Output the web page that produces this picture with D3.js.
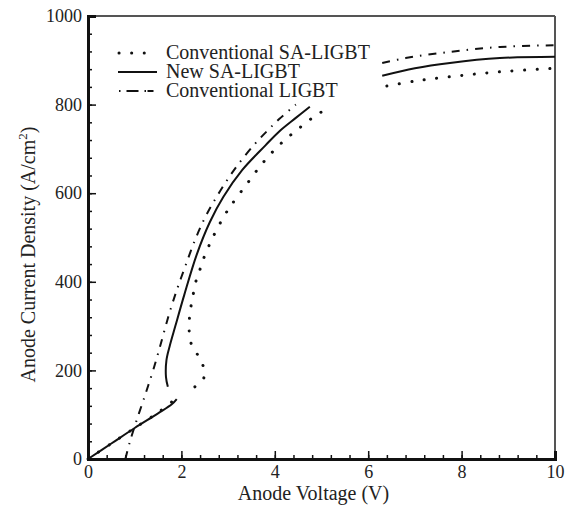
<!DOCTYPE html>
<html>
<head>
<meta charset="utf-8">
<script src="https://cdn.jsdelivr.net/npm/d3@7"></script>
<style>
  body { margin: 0; background: #fff; }
</style>
</head>
<body>
<script>
// Anode voltage (V) / current density (A/cm2)
// New SA-LIGBT (solid): unipolar part, snapback branch, saturation part
const newLowV = [0, 0.5, 1.0, 1.5, 1.8, 1.9];
const newLowJ = [0, 35, 70, 103, 124, 135];
const newUpV = [1.71, 1.67, 1.68, 1.75, 1.87, 2.06, 2.33, 2.61, 2.9, 3.3, 3.8, 4.1, 4.45, 4.75];
const newUpJ = [163, 185, 223, 255, 300, 370, 462, 535, 592, 652, 708, 740, 770, 795];
const newSatV = [6.3, 7.0, 7.75, 8.82, 10];
const newSatJ = [865, 882, 894, 905, 908];

// Conventional SA-LIGBT (dotted)
const convSaLowV = [0, 0.5, 1.0, 1.5, 1.9];
const convSaLowJ = [0, 35, 70, 105, 138];
const convSaUpV = [2.29, 2.48, 2.47, 2.36, 2.22, 2.17, 2.17, 2.2, 2.25, 2.3, 2.38, 2.47, 2.68, 2.93, 3.08, 3.41, 3.74, 4.1, 4.5, 4.9, 5.2];
const convSaUpJ = [163, 183, 208, 233, 257, 284, 314, 341, 370, 397, 422, 451, 502, 551, 575, 622, 668, 709, 745, 777, 795];
const convSaSatV = [6.4, 7.0, 7.75, 8.82, 10];
const convSaSatJ = [842, 853, 863, 874, 882];

// Conventional LIGBT (dash-dot)
const ligbtV = [0.8, 0.9, 1.05, 1.2, 1.29, 1.4, 1.54, 1.72, 1.9, 2.08, 2.29, 2.53, 2.83, 3.18, 3.58, 3.85, 4.1, 4.45];
const ligbtJ = [0, 40, 90, 137, 166, 202, 253, 321, 381, 434, 494, 550, 605, 660, 712, 742, 768, 800];
const ligbtSatV = [6.3, 6.8, 7.75, 8.82, 10];
const ligbtSatJ = [894, 905, 919, 930, 934];

const xTicks = [0, 2, 4, 6, 8, 10];
const yTicks = [0, 200, 400, 600, 800, 1000];
const legendNames = ["Conventional SA-LIGBT", "New SA-LIGBT", "Conventional LIGBT"];

const font = "'Liberation Serif', 'Times New Roman', Times, Tinos, 'Nimbus Roman', 'DejaVu Serif', 'Noto Serif', serif";

const W = 567, H = 508;
const m = { top: 16, right: 12, bottom: 49, left: 88 };
const w = W - m.left - m.right;
const h = H - m.top - m.bottom;

const svg = d3.select("body").append("svg")
    .attr("width", W)
    .attr("height", H)
    .style("font-family", font);

const g = svg.append("g").attr("transform", "translate(" + m.left + "," + m.top + ")");

const xScale = d3.scaleLinear().domain([0, 10]).range([0, w]);
const yScale = d3.scaleLinear().domain([0, 1000]).range([h, 0]);

// styles for the three series
const styles = {
    dot: { dash: "0.1,12.5", width: 3, cap: "round" },
    solid: { dash: null, width: 2, cap: "butt" },
    dashdot: { dash: "8,7,1.5,7", width: 2, cap: "butt" }
};

// frame (top / right) - thinner grey
g.append("line").attr("x1", 0).attr("x2", w).attr("y1", 0).attr("y2", 0)
    .attr("stroke", "#555").attr("stroke-width", 2);
g.append("line").attr("x1", w).attr("x2", w).attr("y1", 0).attr("y2", h)
    .attr("stroke", "#555").attr("stroke-width", 2);

// minor ticks
g.append("g")
    .attr("transform", "translate(0," + h + ")")
    .call(d3.axisBottom(xScale).tickValues(d3.range(0, 10.01, 0.4)).tickSize(-4).tickFormat(""))
    .call(a => a.select(".domain").remove())
    .selectAll("line").attr("stroke", "#111").attr("stroke-width", 1.5);
g.append("g")
    .call(d3.axisLeft(yScale).tickValues(d3.range(0, 1000.1, 40)).tickSize(-4).tickFormat(""))
    .call(a => a.select(".domain").remove())
    .selectAll("line").attr("stroke", "#111").attr("stroke-width", 1.5);

// major axes
const xAxis = g.append("g")
    .attr("transform", "translate(0," + h + ")")
    .call(d3.axisBottom(xScale).tickValues(xTicks).tickSize(-8).tickPadding(6).tickFormat(d3.format("d")));
xAxis.select(".domain").attr("stroke", "#111").attr("stroke-width", 3);
xAxis.selectAll("line").attr("stroke", "#111").attr("stroke-width", 1.5);
xAxis.selectAll("text").attr("font-size", 18).attr("fill", "#222")
    .attr("font-family", null).style("font-family", font);

const yAxis = g.append("g")
    .call(d3.axisLeft(yScale).tickValues(yTicks).tickSize(-8).tickPadding(6).tickFormat(d3.format("d")));
yAxis.select(".domain").attr("stroke", "#111").attr("stroke-width", 3);
yAxis.selectAll("line").attr("stroke", "#111").attr("stroke-width", 1.5);
yAxis.selectAll("text").attr("font-size", 18).attr("fill", "#222")
    .style("font-family", font);
xAxis.attr("font-family", null);
yAxis.attr("font-family", null);

// curves
const line = d3.line()
    .x(d => xScale(d[0]))
    .y(d => yScale(d[1]))
    .curve(d3.curveCatmullRom.alpha(0.5));

const zip = (vs, js) => vs.map((v, i) => [v, js[i]]);

const segments = [
    { pts: zip(convSaLowV, convSaLowJ), s: styles.dot },
    { pts: zip(convSaUpV, convSaUpJ), s: styles.dot },
    { pts: zip(convSaSatV, convSaSatJ), s: styles.dot },
    { pts: zip(ligbtV, ligbtJ), s: styles.dashdot },
    { pts: zip(ligbtSatV, ligbtSatJ), s: styles.dashdot },
    { pts: zip(newLowV, newLowJ), s: styles.solid },
    { pts: zip(newUpV, newUpJ), s: styles.solid },
    { pts: zip(newSatV, newSatJ), s: styles.solid }
];

g.selectAll("path.curve")
    .data(segments)
    .enter()
    .append("path")
    .attr("class", "curve")
    .attr("d", d => line(d.pts))
    .attr("fill", "none")
    .attr("stroke", "#111")
    .attr("stroke-width", d => d.s.width)
    .attr("stroke-linecap", d => d.s.cap)
    .attr("stroke-dasharray", d => d.s.dash);

// legend
const legendStyles = [styles.dot, styles.solid, styles.dashdot];
const lg = svg.append("g").attr("transform", "translate(118,53)");
legendNames.forEach((name, i) => {
    const row = lg.append("g").attr("transform", "translate(0," + (i * 19) + ")");
    const s = legendStyles[i];
    row.append("line")
        .attr("x1", i === 1 ? 0 : 1).attr("x2", i === 1 ? 39 : 36)
        .attr("y1", 0).attr("y2", 0)
        .attr("stroke", "#111")
        .attr("stroke-width", s.width)
        .attr("stroke-linecap", s.cap)
        .attr("stroke-dasharray", i === 2 ? "1.5,6,12,6,1.5" : s.dash);
    row.append("text")
        .attr("x", 48).attr("y", 6)
        .attr("font-size", 20)
        .attr("fill", "#222")
        .text(name);
});

// axis titles
svg.append("text")
    .attr("x", m.left + w / 2 - 8)
    .attr("y", 500)
    .attr("text-anchor", "middle")
    .attr("font-size", 20)
    .attr("fill", "#222")
    .text("Anode Voltage (V)");

const yl = svg.append("text")
    .attr("transform", "translate(35," + (m.top + h / 2 + 17) + ") rotate(-90)")
    .attr("text-anchor", "middle")
    .attr("font-size", 20)
    .attr("fill", "#222");
yl.append("tspan").text("Anode Current Density (A/cm");
yl.append("tspan").attr("font-size", 13).attr("dy", "-0.6em").text("2");
yl.append("tspan").attr("dy", "0.4em").text(")");
</script>
</body>
</html>
